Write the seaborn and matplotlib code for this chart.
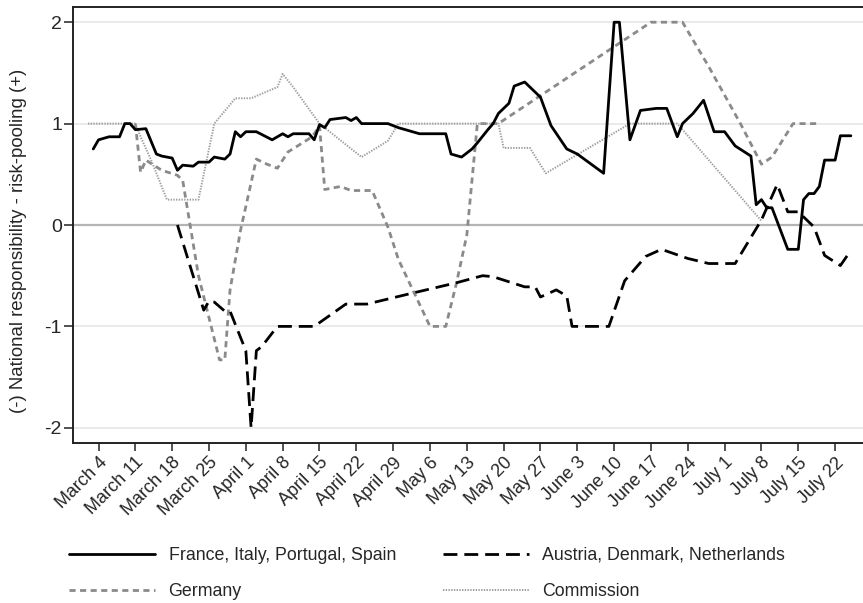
import matplotlib
matplotlib.use("Agg")
import matplotlib.pyplot as plt
import pandas as pd
import seaborn as sns

# ---------------- data ----------------
south_dates = ["2020-03-03", "2020-03-04", "2020-03-06", "2020-03-08", "2020-03-09", "2020-03-10",
               "2020-03-11", "2020-03-13", "2020-03-15", "2020-03-16", "2020-03-18", "2020-03-19",
               "2020-03-20", "2020-03-22", "2020-03-23", "2020-03-25", "2020-03-26", "2020-03-28",
               "2020-03-29", "2020-03-30", "2020-03-31", "2020-04-01", "2020-04-03", "2020-04-06",
               "2020-04-08", "2020-04-09", "2020-04-10", "2020-04-13", "2020-04-14", "2020-04-15",
               "2020-04-16", "2020-04-17", "2020-04-20", "2020-04-21", "2020-04-22", "2020-04-23",
               "2020-04-28", "2020-04-30", "2020-05-04", "2020-05-09", "2020-05-10", "2020-05-12",
               "2020-05-14", "2020-05-15", "2020-05-17", "2020-05-18", "2020-05-19", "2020-05-21",
               "2020-05-22", "2020-05-24", "2020-05-27", "2020-05-29", "2020-06-01", "2020-06-03",
               "2020-06-08", "2020-06-10", "2020-06-11", "2020-06-13", "2020-06-15", "2020-06-18",
               "2020-06-20", "2020-06-22", "2020-06-23", "2020-06-25", "2020-06-27", "2020-06-29",
               "2020-07-01", "2020-07-03", "2020-07-06", "2020-07-07", "2020-07-08", "2020-07-09",
               "2020-07-10", "2020-07-13", "2020-07-15", "2020-07-16", "2020-07-17", "2020-07-18",
               "2020-07-19", "2020-07-20", "2020-07-22", "2020-07-23", "2020-07-25"]
south_values = [0.75, 0.84, 0.87, 0.87, 1.00, 1.00,
                0.94, 0.95, 0.70, 0.68, 0.66, 0.54,
                0.59, 0.58, 0.62, 0.62, 0.67, 0.65,
                0.70, 0.92, 0.87, 0.92, 0.92, 0.84,
                0.90, 0.87, 0.90, 0.90, 0.84, 0.99,
                0.96, 1.04, 1.06, 1.03, 1.06, 1.00,
                1.00, 0.96, 0.90, 0.90, 0.70, 0.67,
                0.75, 0.81, 0.94, 1.00, 1.10, 1.20,
                1.37, 1.41, 1.26, 0.98, 0.75, 0.70,
                0.51, 2.00, 2.00, 0.84, 1.13, 1.15,
                1.15, 0.87, 1.00, 1.10, 1.23, 0.92,
                0.92, 0.78, 0.68, 0.20, 0.25, 0.17,
                0.17, -0.24, -0.24, 0.25, 0.31, 0.31,
                0.38, 0.64, 0.64, 0.88, 0.88]

frugal_dates = ["2020-03-19", "2020-03-24", "2020-03-25", "2020-03-26", "2020-03-28", "2020-03-29",
                "2020-04-01", "2020-04-02", "2020-04-03", "2020-04-04", "2020-04-07", "2020-04-14",
                "2020-04-20", "2020-04-24", "2020-05-02", "2020-05-11", "2020-05-16", "2020-05-18",
                "2020-05-24", "2020-05-26", "2020-05-27", "2020-05-30", "2020-06-01", "2020-06-02",
                "2020-06-09", "2020-06-12", "2020-06-16", "2020-06-19", "2020-06-24", "2020-06-28",
                "2020-07-03", "2020-07-08", "2020-07-11", "2020-07-13", "2020-07-15", "2020-07-18",
                "2020-07-20", "2020-07-23", "2020-07-25"]
frugal_values = [0.00, -0.84, -0.75, -0.76, -0.85, -0.85,
                 -1.24, -2.00, -1.24, -1.20, -1.00, -1.00,
                 -0.78, -0.78, -0.68, -0.57, -0.50, -0.51,
                 -0.61, -0.61, -0.71, -0.64, -0.70, -1.00,
                 -1.00, -0.55, -0.31, -0.24, -0.33, -0.38,
                 -0.38, 0.05, 0.40, 0.13, 0.13, -0.02,
                 -0.30, -0.40, -0.25]

germany_dates = ["2020-03-11", "2020-03-12", "2020-03-13", "2020-03-16", "2020-03-19", "2020-03-20",
                 "2020-03-23", "2020-03-27", "2020-03-28", "2020-03-29", "2020-03-31", "2020-04-03",
                 "2020-04-05", "2020-04-07", "2020-04-09", "2020-04-13", "2020-04-14", "2020-04-15",
                 "2020-04-16", "2020-04-19", "2020-04-21", "2020-04-25", "2020-04-28", "2020-04-30",
                 "2020-05-06", "2020-05-09", "2020-05-11", "2020-05-13", "2020-05-14", "2020-05-15",
                 "2020-05-19", "2020-06-17", "2020-06-23", "2020-06-28", "2020-07-04", "2020-07-08",
                 "2020-07-10", "2020-07-14", "2020-07-19"]
germany_values = [1.00, 0.52, 0.64, 0.54, 0.49, 0.44,
                  -0.50, -1.33, -1.33, -0.64, -0.05, 0.65,
                  0.60, 0.56, 0.72, 0.85, 0.90, 0.98,
                  0.35, 0.38, 0.34, 0.34, -0.02, -0.34,
                  -1.00, -1.00, -0.58, -0.10, 0.45, 1.00,
                  1.00, 2.00, 2.00, 1.56, 1.00, 0.60,
                  0.67, 1.00, 1.00]

commission_dates = ["2020-03-02", "2020-03-11", "2020-03-12", "2020-03-14", "2020-03-17", "2020-03-23",
                    "2020-03-26", "2020-03-30", "2020-04-02", "2020-04-07", "2020-04-08", "2020-04-10",
                    "2020-04-15", "2020-04-23", "2020-04-28", "2020-04-30", "2020-05-19", "2020-05-20",
                    "2020-05-25", "2020-05-28", "2020-06-13", "2020-06-22", "2020-07-08"]
commission_values = [1.00, 1.00, 0.87, 0.64, 0.25, 0.25,
                     1.00, 1.25, 1.25, 1.36, 1.49, 1.36,
                     1.00, 0.67, 0.83, 1.00, 1.00, 0.76,
                     0.76, 0.51, 1.00, 1.00, 0.04]

series_labels = ["France, Italy, Portugal, Spain", "Austria, Denmark, Netherlands",
                 "Germany", "Commission"]

tick_dates = ["2020-03-04", "2020-03-11", "2020-03-18", "2020-03-25", "2020-04-01", "2020-04-08",
              "2020-04-15", "2020-04-22", "2020-04-29", "2020-05-06", "2020-05-13", "2020-05-20",
              "2020-05-27", "2020-06-03", "2020-06-10", "2020-06-17", "2020-06-24", "2020-07-01",
              "2020-07-08", "2020-07-15", "2020-07-22"]
tick_labels = ["March 4", "March 11", "March 18", "March 25", "April 1", "April 8",
               "April 15", "April 22", "April 29", "May 6", "May 13", "May 20",
               "May 27", "June 3", "June 10", "June 17", "June 24", "July 1",
               "July 8", "July 15", "July 22"]
y_ticks = [-2, -1, 0, 1, 2]
y_label = "(-) National responsibility - risk-pooling (+)"

# ---------------- style ----------------
sns.set_style("white")
plt.rcParams['font.family'] = ['Liberation Sans', 'DejaVu Sans']

W, H = 863, 603
fig = plt.figure(figsize=(W / 100, H / 100), dpi=100)
ax = fig.add_axes([73 / W, 160 / H, 790 / W, 436 / H])

# grid
for v in y_ticks:
    if v != 0:
        ax.axhline(v, color="#e6e6e6", lw=1.2, zorder=0)
ax.axhline(0, color="#b4b4b4", lw=1.6, zorder=0)

sns.lineplot(x=pd.to_datetime(south_dates), y=south_values, ax=ax, color="black",
             lw=2.0, linestyle="-", label=series_labels[0], legend=False, zorder=3)
sns.lineplot(x=pd.to_datetime(frugal_dates), y=frugal_values, ax=ax, color="black",
             lw=2.0, linestyle=(0, (5, 2.5)), label=series_labels[1], legend=False, zorder=3)
sns.lineplot(x=pd.to_datetime(germany_dates), y=germany_values, ax=ax, color="#8a8a8a",
             lw=2.0, linestyle=(0, (2.2, 1.6)), label=series_labels[2], legend=False, zorder=2)
sns.lineplot(x=pd.to_datetime(commission_dates), y=commission_values, ax=ax, color="#9c9c9c",
             lw=1.4, linestyle=(0, (0.7, 0.7)), label=series_labels[3], legend=False, zorder=2)

# axes limits
x0 = pd.Timestamp("2020-03-04")
ax.set_xlim(x0 - pd.Timedelta(days=4.85), x0 + pd.Timedelta(days=145.3))
ax.set_ylim(-2.15, 2.15)

ax.set_xticks(pd.to_datetime(tick_dates))
ax.set_xticklabels(tick_labels, rotation=45, ha="right", rotation_mode="anchor")
ax.tick_params(axis="x", direction="out", length=6, width=1.1, color="#222222",
               labelsize=13, pad=2, bottom=True)
ax.set_yticks(y_ticks)
ax.set_yticklabels([str(v) for v in y_ticks])
ax.tick_params(axis="y", direction="out", length=6.5, width=1.1, color="#222222",
               labelsize=14, pad=1.5, left=True)
for lbl in ax.get_xticklabels():
    lbl.set_x(lbl.get_position()[0])
ax.set_xlabel("")
ax.set_ylabel(y_label, fontsize=13.4)
ax.yaxis.set_label_coords(-0.058, 0.464)

for side in ["left", "top", "bottom"]:
    ax.spines[side].set_color("#222222")
    ax.spines[side].set_linewidth(1.4)
ax.spines["right"].set_visible(False)

handles, labels = ax.get_legend_handles_labels()
order = [0, 2, 1, 3]
fig.legend([handles[i] for i in order], [labels[i] for i in order],
           loc="upper left", bbox_to_anchor=(69 / W, 1 - 547 / H), ncol=2, frameon=False,
           fontsize=12.8, handlelength=4.85, handletextpad=0.75, columnspacing=2.62,
           borderpad=0, borderaxespad=0, labelspacing=1.08)

fig.savefig("out.png", dpi=100)
